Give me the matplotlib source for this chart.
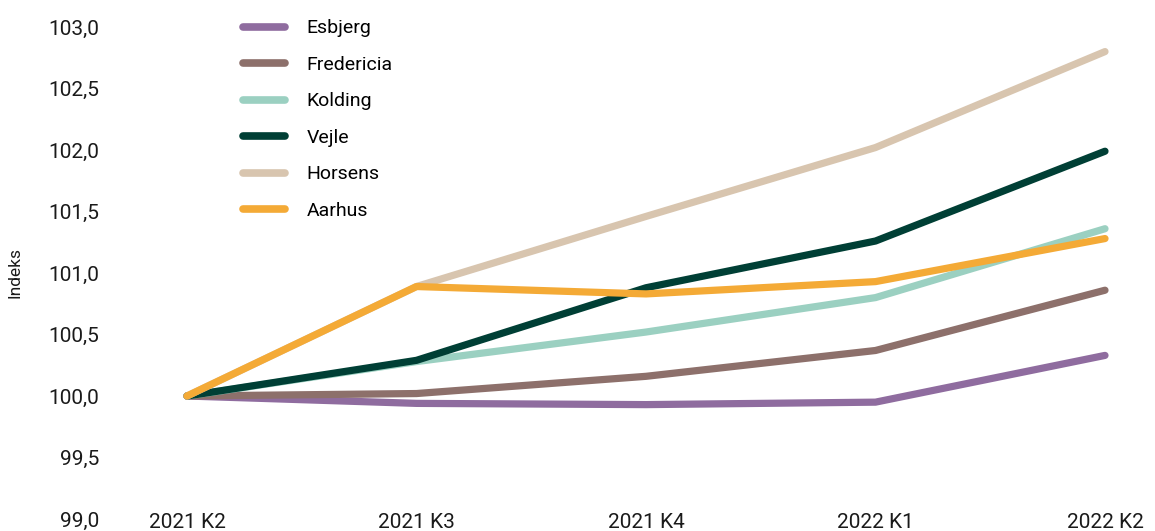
import matplotlib

matplotlib.use("Agg")
import matplotlib.pyplot as plt
from matplotlib.ticker import FuncFormatter

quarters = ["2021 K2", "2021 K3", "2021 K4", "2022 K1", "2022 K2"]

esbjerg = [100.0, 99.94, 99.93, 99.95, 100.33]
fredericia = [100.0, 100.02, 100.16, 100.37, 100.86]
kolding = [100.0, 100.28, 100.52, 100.80, 101.36]
vejle = [100.0, 100.29, 100.88, 101.26, 101.99]
horsens = [100.0, 100.89, 101.46, 102.02, 102.80]
aarhus = [100.0, 100.89, 100.83, 100.93, 101.28]

series = [
    ("Esbjerg", esbjerg, "#8F6C9F"),
    ("Fredericia", fredericia, "#8D706B"),
    ("Kolding", kolding, "#9BD0C1"),
    ("Vejle", vejle, "#003F35"),
    ("Horsens", horsens, "#D8C5AF"),
    ("Aarhus", aarhus, "#F4AA36"),
]

plt.rcParams["font.family"] = ["Roboto", "DejaVu Sans"]

fig = plt.figure(figsize=(11.55, 5.31), dpi=100)
ax = fig.add_axes([110 / 1155, 12 / 531, 1035 / 1155, 492 / 531])

x = list(range(len(quarters)))
for name, vals, color in series:
    ax.plot(x, vals, color=color, lw=5.2, solid_capstyle="round",
            solid_joinstyle="round", label=name)

# x: 0 -> px 187, 4 -> px 1105 within axes spanning px 110..1145
unit = (1105 - 187) / 4
ax.set_xlim(-(187 - 110) / unit, 4 + (1145 - 1105) / unit)
ax.set_ylim(99.0, 103.0)
ax.set_yticks([99.0 + 0.5 * i for i in range(9)])
ax.yaxis.set_major_formatter(FuncFormatter(lambda v, p: f"{v:.1f}".replace(".", ",")))
ax.set_xticks(x)
ax.set_xticklabels(quarters)

for s in ax.spines.values():
    s.set_visible(False)
ax.tick_params(axis="both", length=0, labelsize=15, colors="#1a1a1a")
ax.tick_params(axis="y", pad=8)
ax.tick_params(axis="x", pad=-4)

ax.set_ylabel("Indeks", fontsize=12.5, color="#1a1a1a", labelpad=18)

leg = ax.legend(loc="upper left", bbox_to_anchor=(225 / 1155, 1 - 2 / 531),
                bbox_transform=fig.transFigure, frameon=False, fontsize=14,
                handlelength=2.2, handletextpad=1.1, labelspacing=0.95)
for line in leg.get_lines():
    line.set_linewidth(5.5)
    line.set_solid_capstyle("round")

fig.savefig("out.png", dpi=100)
